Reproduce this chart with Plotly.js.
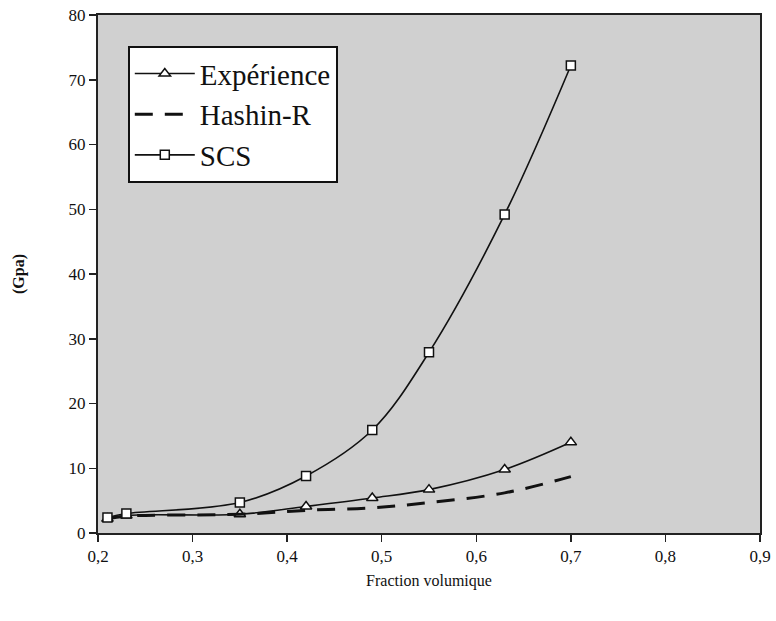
<!DOCTYPE html>
<html>
<head>
<meta charset="utf-8">
<script src="https://cdn.plot.ly/plotly-3.0.1.min.js"></script>
<style>html,body{margin:0;padding:0;background:#fff;}#chart{width:776px;height:621px;}</style>
</head>
<body>
<div id="chart"></div>
<script>
const fraction = [0.21, 0.23, 0.35, 0.42, 0.49, 0.55, 0.63, 0.70];
const experience = [2.2, 2.7, 2.9, 4.1, 5.4, 6.7, 9.8, 14.0];
const hashinR = [2.2, 2.6, 2.9, 3.5, 3.9, 4.7, 6.2, 8.7];
const scs = [2.4, 3.0, 4.7, 8.8, 15.9, 27.9, 49.2, 72.2];
const xTicks = [0.2, 0.3, 0.4, 0.5, 0.6, 0.7, 0.8, 0.9];
const yTicks = [0, 10, 20, 30, 40, 50, 60, 70, 80];

const serif = "'Liberation Serif', 'Times New Roman', serif";

const traces = [
  {x: fraction, y: experience, name: 'Expérience', mode: 'lines+markers',
   line: {color: '#111', width: 1.6, shape: 'spline'},
   marker: {symbol: 'triangle-up', size: 10, color: '#fff', line: {color: '#111', width: 1.5}}},
  {x: fraction, y: hashinR, name: 'Hashin-R', mode: 'lines',
   line: {color: '#111', width: 3, dash: '18px,12px', shape: 'spline'}},
  {x: fraction, y: scs, name: 'SCS', mode: 'lines+markers',
   line: {color: '#111', width: 1.6, shape: 'spline'},
   marker: {symbol: 'square', size: 9, color: '#fff', line: {color: '#111', width: 1.5}}}
];

const layout = {
  width: 776, height: 621,
  margin: {l: 98, r: 16, t: 15, b: 88},
  paper_bgcolor: '#fff',
  plot_bgcolor: '#d0d0d0',
  separators: ', ',
  font: {family: serif, color: '#111', size: 17},
  showlegend: true,
  legend: {x: 0.045, y: 0.94, xanchor: 'left', yanchor: 'top',
           bgcolor: '#fff', bordercolor: '#111', borderwidth: 2,
           font: {family: serif, size: 29, color: '#111'},
           tracegroupgap: 0, itemwidth: 60},
  xaxis: {range: [0.2, 0.9], tickvals: xTicks, tickformat: '.1f',
          showgrid: false, zeroline: false, showline: true, linecolor: '#222', linewidth: 2,
          mirror: true, ticks: 'outside', ticklen: 7, tickcolor: '#222', tickwidth: 1.5,
          tickfont: {family: serif, size: 17},
          title: {text: 'Fraction volumique', font: {family: serif, size: 16}, standoff: 9}},
  yaxis: {range: [0, 80], tickvals: yTicks,
          showgrid: false, zeroline: false, showline: true, linecolor: '#222', linewidth: 2,
          mirror: true, ticks: 'outside', ticklen: 7, tickcolor: '#222', tickwidth: 1.5,
          tickfont: {family: serif, size: 17},
          title: {text: '<b>(Gpa)</b>', font: {family: serif, size: 16}, standoff: 40}}
};

Plotly.newPlot('chart', traces, layout, {displayModeBar: false, staticPlot: true});
</script>
</body>
</html>
